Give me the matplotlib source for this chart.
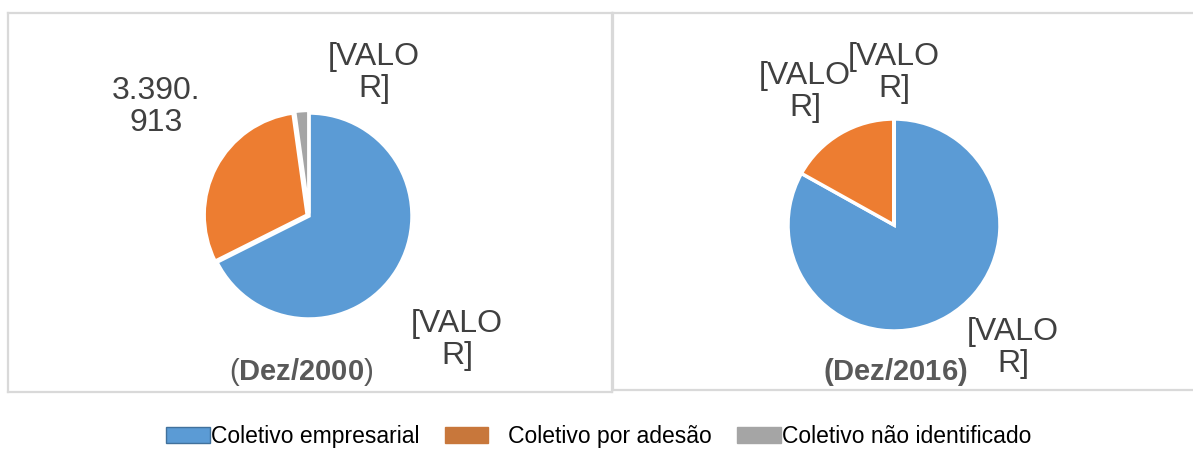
import matplotlib.pyplot as plt
from matplotlib.patches import Patch

plt.rcParams['font.family'] = ['Liberation Sans', 'DejaVu Sans']
plt.rcParams['mathtext.fontset'] = 'custom'
plt.rcParams['mathtext.rm'] = 'Liberation Sans'
plt.rcParams['mathtext.bf'] = 'Liberation Sans:bold'

# Data
categories = ['Coletivo empresarial', 'Coletivo por adesão', 'Coletivo não identificado']
dez2000 = [7590000, 3390913, 247000]
dez2016 = [31500000, 6400000, 10000]
labels_2000 = ['[VALO\nR]', '3.390.\n913', '[VALO\nR]']
labels_2016 = ['[VALO\nR]', '[VALO\nR]', '[VALO\nR]']

pie_colors = ['#5B9BD5', '#ED7D31', '#A5A5A5']
legend_colors = ['#5B9BD5', '#C8773B', '#A5A5A5']
legend_edges = ['#41719C', '#C8773B', '#A5A5A5']

W, H = 1193, 450
fig = plt.figure(figsize=(W / 100, H / 100), dpi=100)


def pie_panel(values, labels, explode, box, center, radius, label_pos, title, title_pos):
    x0, y0, x1, y1 = box
    cx, cy = center
    ax = fig.add_axes([x0 / W, 1 - y1 / H, (x1 - x0) / W, (y1 - y0) / H])
    ax.pie(values, colors=pie_colors, startangle=90, counterclock=False,
           explode=explode, wedgeprops=dict(edgecolor='white', linewidth=2.5))
    ax.set_xlim((x0 - cx) / radius, (x1 - cx) / radius)
    ax.set_ylim((cy - y1) / radius, (cy - y0) / radius)
    ax.set_aspect('auto')
    ax.set_frame_on(True)
    for s in ax.spines.values():
        s.set_color('#D9D9D9')
        s.set_linewidth(1.6)
    for lab, (px, py) in zip(labels, label_pos):
        ax.text((px - cx) / radius, (cy - py) / radius, lab, ha='center', va='center',
                fontsize=23, color='#404040', linespacing=1.12, clip_on=False)
    tx, ty = title_pos
    ax.text((tx - cx) / radius, (cy - ty) / radius, title, ha='center', va='center',
            fontsize=21, color='#595959', clip_on=False)
    return ax


pie_panel(dez2000, labels_2000, (0, 0.02, 0.025),
          (8, 13, 612, 392), (309, 216), 103,
          [(457, 340), (156, 107), (374, 73)],
          r'($\mathbf{Dez/2000}$)', (301, 372))

pie_panel(dez2016, labels_2016, (0, 0, 0),
          (613, 13, 1210, 390), (894, 225), 106,
          [(1013, 348), (805, 92), (894, 73)],
          r'$\mathbf{(Dez/2016)}$', (895, 372))

handles = [Patch(facecolor=c, edgecolor=e, linewidth=1) for c, e in zip(legend_colors, legend_edges)]
leg_labels = [categories[0], '   ' + categories[1], categories[2]]
fig.legend(handles, leg_labels, loc='center', bbox_to_anchor=(0.502, 0.03), ncol=3,
           frameon=False, fontsize=16.5, handlelength=1.9, handleheight=0.75,
           handletextpad=0.05, columnspacing=1.1)

fig.savefig('out.png', dpi=100)
